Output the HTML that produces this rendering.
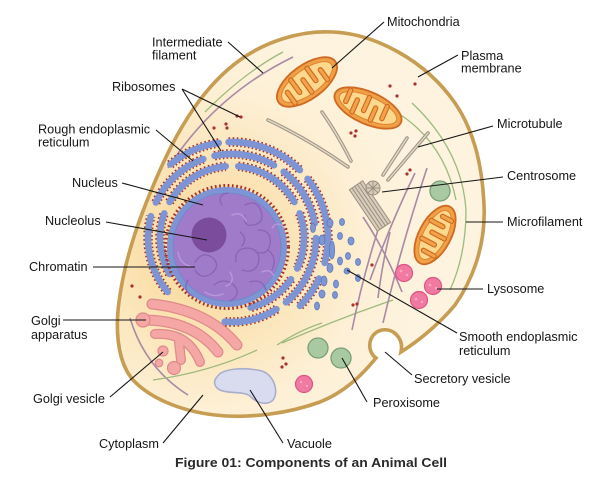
<!DOCTYPE html>
<html><head><meta charset="utf-8">
<style>
html,body{margin:0;padding:0;background:#fff;}
svg{display:block;}
text{font-family:"Liberation Sans",Arial,sans-serif;font-size:12.7px;fill:#161616;}
.t{font-weight:bold;font-size:12.8px;fill:#2a2a2a;}
.ld{stroke:#151515;stroke-width:1.1;fill:none;}
.er1{fill:none;stroke:#a8302f;stroke-width:9.5;stroke-dasharray:1.6 2.4;}
.er2{fill:none;stroke:#7d95d4;stroke-width:6.6;stroke-linecap:round;}
.mt1{fill:none;stroke:#a49886;stroke-width:3.6;stroke-linecap:round;}
.mt2{fill:none;stroke:#e6ddcd;stroke-width:1.3;stroke-linecap:round;}
.pf{fill:none;stroke:#a88aa6;stroke-width:1.6;}
.gf{fill:none;stroke:#9cba7c;stroke-width:1.3;}
.rb{fill:#a8322f;}
.cr1{fill:none;stroke:#d06a22;stroke-width:5.5;stroke-linecap:round;}
.cr2{fill:none;stroke:#f1a34a;stroke-width:3.2;stroke-linecap:round;}
.ser{fill:#7d96d4;stroke:#5f78bb;stroke-width:0.8;}
.ly{fill:#f07aa0;stroke:#dc5584;stroke-width:1.2;}
.px{fill:#a9c9a2;stroke:#789f76;stroke-width:1.3;}
</style></head>
<body>
<svg width="609" height="482" viewBox="0 0 609 482" xmlns="http://www.w3.org/2000/svg">
<defs>
<radialGradient id="cg" cx="205" cy="250" r="230" gradientUnits="userSpaceOnUse">
<stop offset="0" stop-color="#f9d592"/>
<stop offset="0.35" stop-color="#fbe3b4"/>
<stop offset="0.7" stop-color="#fdf0d6"/>
<stop offset="1" stop-color="#fdf3df"/>
</radialGradient>
</defs>

<!-- Cell -->
<path d="M333,32 C375,34 425,60 455,103 C472,128 482,160 484,205 C486,248 471,282 455,305 C440,323 420,340 401,352 C404,338 393,328 382,330 C368,333 366,351 376,358 C362,375 345,392 320,402 C290,413 250,419 215,415 C180,411 150,398 133,380 C116,360 115,325 120,295 C126,255 140,215 160,170 C180,125 205,85 240,60 C265,42 300,30 333,32 Z" fill="url(#cg)" stroke="#c69d52" stroke-width="3.6"/>

<!-- filaments -->
<path class="pf" d="M168,168 Q215,95 293,57"/>
<path class="gf" d="M205,112 Q245,72 283,52"/>
<path class="pf" d="M130,318 Q145,368 188,395"/>
<path class="gf" d="M153,380 Q210,372 257,350"/>
<path class="gf" d="M277,345 Q300,330 322,323"/>
<path class="gf" d="M282,343 Q340,318 393,300"/>
<path class="gf" d="M412,103 Q462,150 466,210 Q466,255 450,290"/>
<path class="gf" d="M393,110 Q444,140 456,200"/>
<path class="pf" d="M427,168 Q400,250 383,323"/>
<path class="pf" d="M415,173 Q390,225 370,280"/>
<path class="pf" d="M363,217 Q385,250 402,292"/>
<path class="pf" d="M378,230 Q362,280 352,330"/>
<path class="pf" d="M390,232 Q382,265 378,298"/>

<!-- microtubules -->
<path class="mt1" d="M268,120 Q310,140 348,167"/><path class="mt2" d="M268,120 Q310,140 348,167"/>
<path class="mt1" d="M322,112 Q338,135 351,161"/><path class="mt2" d="M322,112 Q338,135 351,161"/>
<path class="mt1" d="M407,138 L383,175"/><path class="mt2" d="M407,138 L383,175"/>
<path class="mt1" d="M428,133 L388,180"/><path class="mt2" d="M428,133 L388,180"/>

<!-- centrosome -->
<g transform="translate(370,206) rotate(56)">
<rect x="-25" y="-8" width="50" height="16" fill="#d8cdbc" stroke="#9b8f7e" stroke-width="1"/>
<path d="M-25,-4.8 H25 M-25,-1.6 H25 M-25,1.6 H25 M-25,4.8 H25" stroke="#9b8f7e" stroke-width="1"/>
</g>
<g transform="translate(373,188)">
<circle r="7" fill="#d8cdbc" stroke="#9b8f7e" stroke-width="1"/>
<path d="M-7,0 H7 M0,-7 V7 M-5,-5 L5,5 M-5,5 L5,-5" stroke="#9b8f7e" stroke-width="0.9"/>
</g>

<!-- mitochondria -->
<g transform="translate(307,82) rotate(-36)">
<ellipse rx="35" ry="17" fill="#f0a046" stroke="#cf6a22" stroke-width="1.8"/>
<ellipse rx="30" ry="12.5" fill="#fcd98d" stroke="#e0842e" stroke-width="1"/>
<path class="cr1" d="M-22,10 V-3 M-12,-11 V4 M-2,11 V-4 M8,-11 V4 M18,10 V-2"/>
<path class="cr2" d="M-22,10 V-3 M-12,-11 V4 M-2,11 V-4 M8,-11 V4 M18,10 V-2"/>
</g>
<g transform="translate(368,108) rotate(24)">
<ellipse rx="36" ry="16" fill="#f0a046" stroke="#cf6a22" stroke-width="1.8"/>
<ellipse rx="31" ry="11.5" fill="#fcd98d" stroke="#e0842e" stroke-width="1"/>
<path class="cr1" d="M-23,-9 V3 M-13,10 V-3 M-3,-10 V4 M7,10 V-3 M17,-9 V4"/>
<path class="cr2" d="M-23,-9 V3 M-13,10 V-3 M-3,-10 V4 M7,10 V-3 M17,-9 V4"/>
</g>
<g transform="translate(435,235) rotate(-62)">
<ellipse rx="32" ry="16" fill="#f0a046" stroke="#cf6a22" stroke-width="1.8"/>
<ellipse rx="27" ry="11.5" fill="#fcd98d" stroke="#e0842e" stroke-width="1"/>
<path class="cr1" d="M-19,9 V-3 M-9,-10 V4 M1,10 V-4 M11,-10 V3 M20,8 V-2"/>
<path class="cr2" d="M-19,9 V-3 M-9,-10 V4 M1,10 V-4 M11,-10 V3 M20,8 V-2"/>
</g>

<!-- green & lysosomes -->
<circle class="px" cx="440" cy="191" r="10"/>
<circle class="ly" cx="404" cy="273" r="8.5"/>
<circle class="ly" cx="433" cy="286" r="8.5"/>
<circle class="ly" cx="419" cy="300" r="8.5"/>
<circle class="ly" cx="304" cy="384" r="8.5"/>
<g fill="#f7a9c3"><circle cx="401" cy="271" r="1.4"/><circle cx="407" cy="275" r="1.2"/><circle cx="430" cy="285" r="1.3"/><circle cx="436" cy="288" r="1.2"/><circle cx="416" cy="299" r="1.3"/><circle cx="422" cy="302" r="1.2"/><circle cx="301" cy="382" r="1.3"/><circle cx="307" cy="386" r="1.2"/></g>

<!-- peroxisomes -->
<circle class="px" cx="318" cy="348" r="10"/>
<circle class="px" cx="341" cy="358" r="10"/>

<!-- vacuole -->
<path d="M217,377 C222,368 245,367 262,371 C276,376 279,395 272,401 C265,406 255,402 250,396 C244,391 228,394 220,390 C214,387 213,381 217,377 Z" fill="#d9dcef" stroke="#a8aecb" stroke-width="1.6"/>

<!-- Golgi -->
<g stroke-linecap="round" fill="none">
<path d="M152,304 Q208,310 237,345" stroke="#df8a8c" stroke-width="11"/>
<path d="M152,304 Q208,310 237,345" stroke="#f5a7a6" stroke-width="8.5"/>
<path d="M143,320 Q193,320 218,352" stroke="#df8a8c" stroke-width="11"/>
<path d="M143,320 Q193,320 218,352" stroke="#f5a7a6" stroke-width="8.5"/>
<path d="M155,334 Q188,332 200,362 M179,342 L181,360" stroke="#df8a8c" stroke-width="10"/>
<path d="M155,334 Q188,332 200,362 M179,342 L181,360" stroke="#f5a7a6" stroke-width="7.5"/>
</g>
<circle cx="143" cy="320" r="7" fill="#f5a7a6" stroke="#df8a8c" stroke-width="1.2"/>
<circle cx="163" cy="351" r="5" fill="#f5a7a6" stroke="#df8a8c" stroke-width="1.2"/>
<circle cx="159" cy="363" r="3.8" fill="#f5a7a6" stroke="#df8a8c" stroke-width="1.2"/>
<circle cx="174" cy="368" r="6.5" fill="#f5a7a6" stroke="#df8a8c" stroke-width="1.2"/>

<!-- Rough ER -->
<g>
<path class="er1" d="M169.6,274 A72,72 0 0 1 164.3,213.4 M169.6,202 A72,72 0 0 1 225.7,166.3 M238.3,166.3 A72,72 0 0 1 294.4,202 M299.7,213.4 A72,72 0 0 1 297.2,268.5 M291,279.3 A72,72 0 0 1 250.6,307.5"/>
<path class="er1" d="M167.7,292 A84,84 0 0 1 150.9,216.2 M155.9,202.5 A84,84 0 0 1 203.3,159 M214.5,155.8 A84,84 0 0 1 274,165.2 M283.7,171.8 A84,84 0 0 1 314.7,223.4 M316,238 A84,84 0 0 1 286,302.3 M276.5,309.2 A84,84 0 0 1 224.7,321.7"/>
<path class="er1" d="M170.3,164.5 A96,96 0 0 1 218.7,143 M228.6,142.1 A96,96 0 0 1 299.9,170.1 M307.6,178.9 A96,96 0 0 1 324.7,262.9 M319,278.6 A96,96 0 0 1 299.9,305.9"/>
<path class="er2" d="M169.6,274 A72,72 0 0 1 164.3,213.4 M169.6,202 A72,72 0 0 1 225.7,166.3 M238.3,166.3 A72,72 0 0 1 294.4,202 M299.7,213.4 A72,72 0 0 1 297.2,268.5 M291,279.3 A72,72 0 0 1 250.6,307.5"/>
<path class="er2" d="M167.7,292 A84,84 0 0 1 150.9,216.2 M155.9,202.5 A84,84 0 0 1 203.3,159 M214.5,155.8 A84,84 0 0 1 274,165.2 M283.7,171.8 A84,84 0 0 1 314.7,223.4 M316,238 A84,84 0 0 1 286,302.3 M276.5,309.2 A84,84 0 0 1 224.7,321.7"/>
<path class="er2" d="M170.3,164.5 A96,96 0 0 1 218.7,143 M228.6,142.1 A96,96 0 0 1 299.9,170.1 M307.6,178.9 A96,96 0 0 1 324.7,262.9 M319,278.6 A96,96 0 0 1 299.9,305.9"/>
</g>

<!-- Nucleus -->
<circle cx="227" cy="247" r="60.5" fill="none" stroke="#a8302f" stroke-width="5" stroke-dasharray="1.7 2.5"/>
<circle cx="227" cy="247" r="57" fill="#a07bca" stroke="#7d95d4" stroke-width="6"/>
<circle cx="227" cy="247" r="54" fill="none" stroke="#6f86c6" stroke-width="0.8"/>
<g fill="none" stroke-width="1.3" stroke-linecap="round">
<path stroke="#8a63b6" d="M245,205 q12,-6 16,6 q4,12 -8,14 q-10,2 -8,-10 M258,230 q14,0 12,14 q-2,12 -14,8 M236,262 q-2,-14 12,-14 q14,2 10,16 q-4,10 -16,6 M195,262 q8,-12 18,-4 q8,8 -2,16 q-10,6 -16,-4 M214,285 q10,-8 20,0 q8,10 -4,16 M250,282 q12,-4 16,8 M188,280 q-6,10 4,16 M222,205 q-6,-10 6,-12 M268,250 q10,8 4,20 M240,232 q8,6 2,14"/>
<path stroke="#b99bdc" d="M232,215 q10,-4 14,6 M262,272 q8,-4 12,4 M205,292 q8,6 18,2 M230,272 q6,10 -4,14 M272,228 q6,-8 12,0 M178,252 q2,12 12,14"/>
</g>
<circle cx="209" cy="235" r="17.5" fill="#7b4c9c"/>

<!-- smooth ER -->
<g>
<ellipse class="ser" cx="330" cy="223" rx="3" ry="4"/>
<ellipse class="ser" cx="342" cy="222" rx="2.5" ry="3.5"/>
<ellipse class="ser" cx="322" cy="240" rx="3" ry="5"/>
<ellipse class="ser" cx="332" cy="250" rx="2.6" ry="9"/>
<ellipse class="ser" cx="340" cy="236" rx="2.5" ry="3.5"/>
<ellipse class="ser" cx="351" cy="241" rx="3" ry="4"/>
<ellipse class="ser" cx="340" cy="261" rx="2.5" ry="4"/>
<ellipse class="ser" cx="348" cy="256" rx="2.5" ry="3.5"/>
<ellipse class="ser" cx="358" cy="262" rx="2.5" ry="3.5"/>
<ellipse class="ser" cx="330" cy="268" rx="3" ry="4.5"/>
<ellipse class="ser" cx="324" cy="281" rx="3" ry="5"/>
<ellipse class="ser" cx="336" cy="284" rx="2.5" ry="4"/>
<ellipse class="ser" cx="347" cy="271" rx="3" ry="3"/>
<ellipse class="ser" cx="358" cy="278" rx="2.5" ry="3.5"/>
<ellipse class="ser" cx="322" cy="294" rx="3" ry="4"/>
<ellipse class="ser" cx="335" cy="295" rx="2.5" ry="3.5"/>
<ellipse class="ser" cx="317" cy="306" rx="2.5" ry="4"/>
<ellipse class="ser" cx="313" cy="228" rx="2.5" ry="4.5"/>
</g>

<!-- ribosomes -->
<g class="rb">
<circle cx="237" cy="116" r="1.6"/><circle cx="241" cy="117" r="1.6"/><circle cx="226" cy="124" r="1.6"/><circle cx="227" cy="128" r="1.6"/><circle cx="214" cy="128" r="1.6"/>
<circle cx="351" cy="133" r="1.6"/><circle cx="356" cy="131" r="1.6"/><circle cx="355" cy="136" r="1.6"/>
<circle cx="390" cy="86" r="1.6"/><circle cx="397" cy="96" r="1.6"/><circle cx="415" cy="84" r="1.6"/>
<circle cx="410" cy="170" r="1.6"/><circle cx="407" cy="174" r="1.6"/>
<circle cx="372" cy="265" r="1.6"/><circle cx="353" cy="305" r="1.6"/><circle cx="357" cy="304" r="1.6"/>
<circle cx="283" cy="358" r="1.6"/><circle cx="282" cy="367" r="1.6"/><circle cx="286" cy="364" r="1.6"/>
<circle cx="132" cy="286" r="1.6"/><circle cx="140" cy="297" r="1.6"/>
</g>

<!-- leader lines -->
<path class="ld" d="M228,42 L263,73"/>
<path class="ld" d="M384,22 L332,68"/>
<path class="ld" d="M458,55 L418,77"/>
<path class="ld" d="M182,89 L240,117 M182,89 L221,151"/>
<path class="ld" d="M156,130 L193,161"/>
<path class="ld" d="M493,126 L418,147"/>
<path class="ld" d="M503,177 L382,192"/>
<path class="ld" d="M122,183 L203,205"/>
<path class="ld" d="M503,222 L466,222"/>
<path class="ld" d="M106,222 L207,240"/>
<path class="ld" d="M93,267 L195,267"/>
<path class="ld" d="M483,289 L437,289"/>
<path class="ld" d="M63,320 L146,320"/>
<path class="ld" d="M347,270 L457,333"/>
<path class="ld" d="M412,375 L385,352"/>
<path class="ld" d="M110,397 L163,352"/>
<path class="ld" d="M367,402 L342,358"/>
<path class="ld" d="M163,443 L203,395"/>
<path class="ld" d="M283,443 L250,390"/>

<!-- labels -->
<text x="152" y="46.5">Intermediate</text>
<text x="152" y="59.5">filament</text>
<text x="387" y="26">Mitochondria</text>
<text x="461" y="60">Plasma</text>
<text x="461" y="72.5">membrane</text>
<text x="112" y="91">Ribosomes</text>
<text x="38" y="133.5">Rough endoplasmic</text>
<text x="38" y="146.5">reticulum</text>
<text x="497" y="128">Microtubule</text>
<text x="507" y="180">Centrosome</text>
<text x="72" y="187">Nucleus</text>
<text x="45" y="225">Nucleolus</text>
<text x="507" y="226">Microfilament</text>
<text x="29" y="271">Chromatin</text>
<text x="487" y="293">Lysosome</text>
<text x="31" y="325">Golgi</text>
<text x="31" y="339">apparatus</text>
<text x="459" y="341">Smooth endoplasmic</text>
<text x="459" y="355">reticulum</text>
<text x="414" y="383">Secretory vesicle</text>
<text x="33" y="403">Golgi vesicle</text>
<text x="373" y="407">Peroxisome</text>
<text x="99" y="448">Cytoplasm</text>
<text x="287" y="448">Vacuole</text>
<text class="t" x="175" y="467" textLength="272" lengthAdjust="spacingAndGlyphs">Figure 01: Components of an Animal Cell</text>
</svg>
</body></html>
